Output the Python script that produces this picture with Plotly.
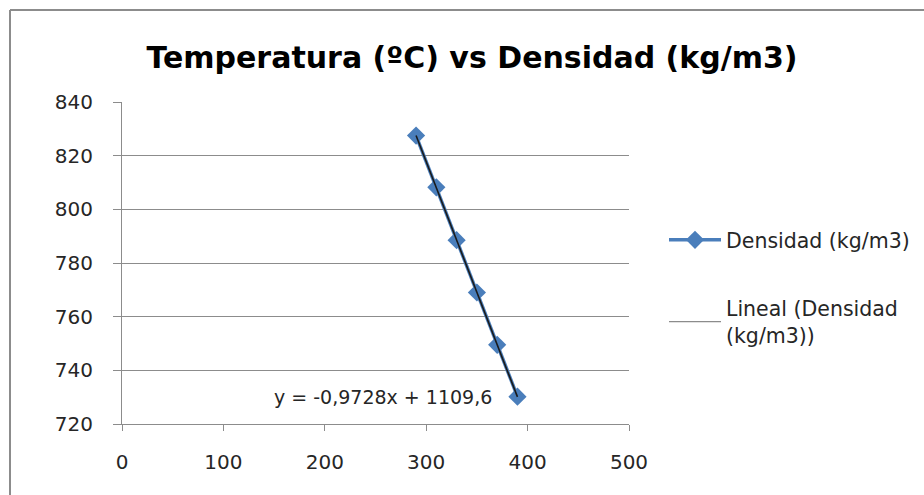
import numpy as np
import plotly.graph_objects as go

# Data
temperatura = [290, 310, 330, 350, 370, 390]
densidad = [827.5, 808.2, 788.5, 769.0, 749.5, 730.2]
x_ticks = [0, 100, 200, 300, 400, 500]
y_ticks = [720, 740, 760, 780, 800, 820, 840]
serie_nombre = "Densidad (kg/m3)"
tendencia_nombre = "Lineal (Densidad<br>(kg/m3))"
titulo = "Temperatura (ºC) vs Densidad (kg/m3)"

# Linear trendline fitted from the data
slope, intercept = np.polyfit(temperatura, densidad, 1)
ecuacion = "y = -0,9728x + 1109,6"
tx = [min(temperatura), max(temperatura)]
ty = [slope * v + intercept for v in tx]

W, H = 924, 495
L, R, T, B = 122, 295, 102, 71
pw, ph = W - L - R, H - T - B

def px_x(p):
    return (p - L) / pw

def px_y(p):
    return (H - B - p) / ph

FONT = "DejaVu Sans"
BLUE = "#4a7ebb"
GRID = "#8c8c8c"

fig = go.Figure()
fig.add_trace(go.Scatter(
    x=temperatura, y=densidad, mode="lines+markers", name=serie_nombre,
    line=dict(color=BLUE, width=3.5),
    marker=dict(symbol="diamond", size=14, color=BLUE),
    legend="legend",
))
fig.add_trace(go.Scatter(
    x=tx, y=ty, mode="lines", showlegend=False,
    line=dict(color="#1a1a1a", width=1.6),
))
fig.add_trace(go.Scatter(
    x=[None], y=[None], mode="lines", name=tendencia_nombre,
    line=dict(color="#8c8c8c", width=1.2),
    legend="legend2",
))

fig.add_annotation(
    x=148, y=730.2, xref="x", yref="y", text=ecuacion, showarrow=False,
    xanchor="left", yanchor="middle",
    font=dict(family=FONT, size=19, color="#262626"),
)

border = dict(color="#8c8c8c", width=2)
fig.add_shape(type="line", xref="paper", yref="paper",
              x0=px_x(10), x1=px_x(W + 20), y0=px_y(10), y1=px_y(10), line=border)
fig.add_shape(type="line", xref="paper", yref="paper",
              x0=px_x(10), x1=px_x(10), y0=px_y(10), y1=px_y(H + 20), line=border)

fig.update_layout(
    width=W, height=H,
    margin=dict(l=L, r=R, t=T, b=B, autoexpand=False),
    paper_bgcolor="white", plot_bgcolor="white",
    font=dict(family=FONT, size=20, color="#262626"),
    title=dict(text="<b>" + titulo + "</b>", x=472 / W, xanchor="center",
               y=1 - 57 / H, yanchor="middle", yref="container",
               font=dict(family=FONT, size=30, color="black")),
    xaxis=dict(range=[0, 500], tickvals=x_ticks, showgrid=False,
               showline=True, linecolor=GRID, linewidth=1,
               ticks="outside", ticklen=6, tickcolor=GRID,
               zeroline=False, ticklabelstandoff=14),
    yaxis=dict(range=[720, 840], tickvals=y_ticks, showgrid=True,
               gridcolor=GRID, gridwidth=1,
               showline=True, linecolor=GRID, linewidth=1,
               ticks="outside", ticklen=8, tickcolor=GRID,
               zeroline=False, ticklabelstandoff=16),
    legend=dict(x=px_x(664), y=px_y(240), xanchor="left", yanchor="middle",
                itemwidth=52, bgcolor="rgba(0,0,0,0)",
                font=dict(family=FONT, size=20.5)),
    legend2=dict(x=px_x(664), y=px_y(322), xanchor="left", yanchor="middle",
                 itemwidth=52, bgcolor="rgba(0,0,0,0)",
                 font=dict(family=FONT, size=20.5)),
)

fig.write_html("out.html")
